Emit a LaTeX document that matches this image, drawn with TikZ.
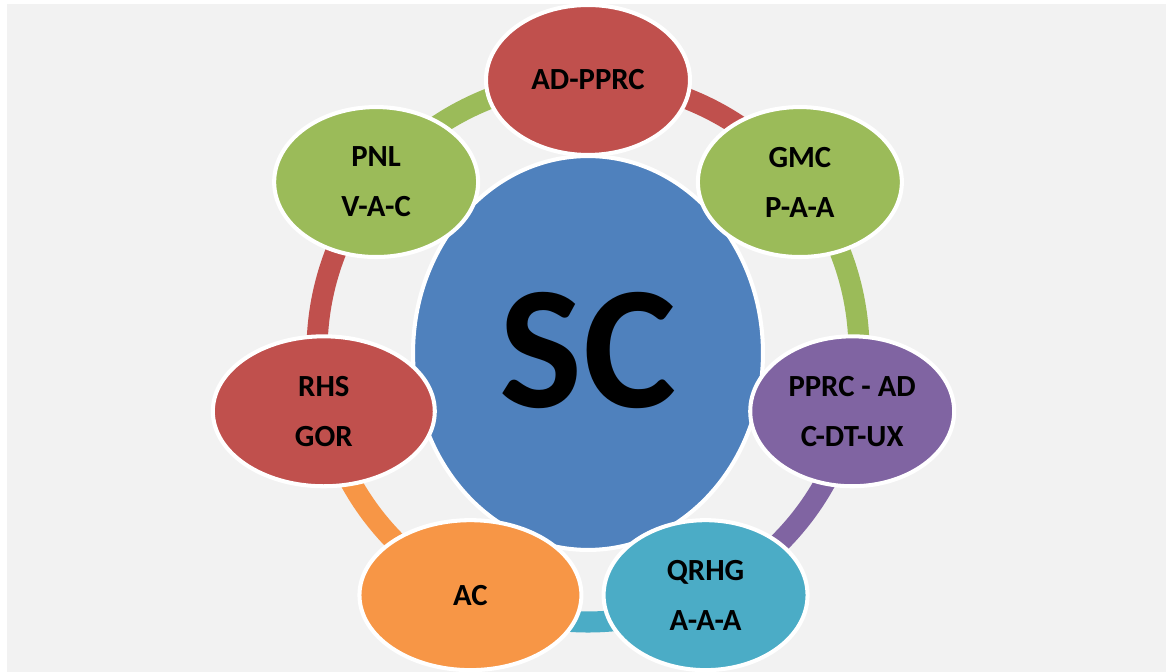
\documentclass[tikz,border=0pt]{standalone}
\usepackage{fontspec}
\setmainfont{Carlito}
\usetikzlibrary{shapes.geometric}
\definecolor{kirmizi}{HTML}{C0504D}
\definecolor{yesil}{HTML}{9BBB59}
\definecolor{mor}{HTML}{8064A2}
\definecolor{turkuaz}{HTML}{4BACC6}
\definecolor{turuncu}{HTML}{F79646}
\definecolor{mavi}{HTML}{4F81BD}
\definecolor{acikGri}{HTML}{F2F2F2}

\begin{document}
\begin{tikzpicture}[x=0.02cm,y=0.02cm,
  uydu/.style={ellipse,draw=white,line width=2.3pt,inner sep=0pt,minimum height=3.0cm,
    align=center,font=\fontsize{17.5}{28.5}\selectfont\bfseries},
  merkezBalon/.style={ellipse,fill=mavi,draw=white,line width=2.3pt,inner sep=0pt,
    minimum width=7.0cm,minimum height=7.88cm,font=\fontsize{100}{100}\selectfont\bfseries},
  halka/.style={line width=12pt}]
\useasboundingbox[fill=white] (0,0) rectangle (1166,672);
\fill[acikGri] (7,0) rectangle (1166,668);
\coordinate (merkez) at (588,321);
\foreach \k in {0,...,6}{
  \path (merkez) ++({90-\k*360/7}:271) coordinate (p\k);
}
% halka parcalari
\foreach \k/\renk in {0/kirmizi,1/yesil,2/mor,3/turkuaz,4/turuncu,5/kirmizi,6/yesil}{
  \draw[halka,\renk] (p\k) arc[start angle={90-\k*360/7},delta angle={-360/7},radius=271];
}
\node[merkezBalon] (sc) at (588,319) {\raisebox{4pt}{SC}};
% uydular
\foreach \k/\ad/\renk/\gen/\yazi in {0/adpprc/kirmizi/4.08/{AD-PPRC},
    1/gmc/yesil/4.08/{GMC\\P-A-A}, 2/pprcad/mor/4.08/{PPRC - AD\\C-DT-UX},
    3/qrhg/turkuaz/4.08/{QRHG\\A-A-A}, 4/ac/turuncu/4.44/{AC},
    5/rhs/kirmizi/4.44/{RHS\\GOR}, 6/pnl/yesil/4.08/{PNL\\V-A-C}}{
  \node[uydu,fill=\renk,minimum width=\gen cm] (\ad) at (p\k) {\yazi};
}
\end{tikzpicture}
\end{document}
